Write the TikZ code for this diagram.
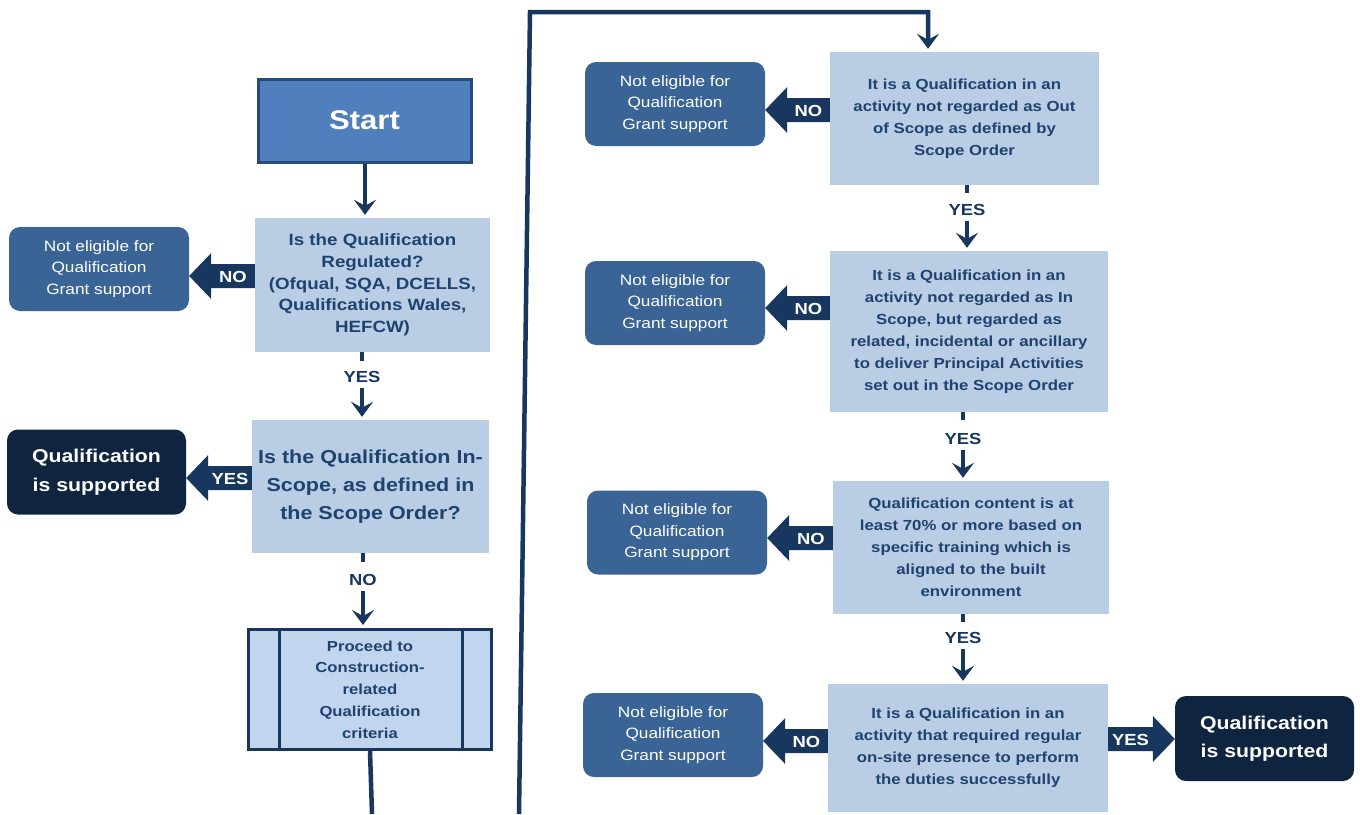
\documentclass[tikz,border=0pt]{standalone}
\usepackage{fontspec}
\setmainfont{Liberation Sans}[FakeStretch=1.15]
\usetikzlibrary{calc,arrows.meta}
\definecolor{navy}{HTML}{17375E}
\definecolor{txtb}{HTML}{1F426F}
\definecolor{lightb}{HTML}{B9CDE5}
\definecolor{procb}{HTML}{C2D5EE}
\definecolor{neb}{HTML}{3A6496}
\definecolor{qsb}{HTML}{0F243E}
\definecolor{startb}{HTML}{4F7FBC}
\definecolor{startd}{HTML}{274B78}
\newcommand\fs[2]{\fontsize{#1}{#2}\selectfont}
\tikzset{
  qbox/.style={fill=lightb, text=txtb, align=center, inner sep=0pt, font=\bfseries\fs{14.6}{22}},
  nebox/.style={fill=neb, text=white, rounded corners=11pt, align=center, inner sep=0pt,
    minimum width=180pt, minimum height=84pt, font=\fs{15}{21.5}},
  qsbox/.style={fill=qsb, text=white, rounded corners=11pt, align=center, inner sep=0pt,
    minimum width=179pt, minimum height=85pt, font=\bfseries\fs{18.5}{28.5}},
  lbl/.style={text=navy, font=\bfseries\fs{16}{18}, inner sep=0pt},
  wlbl/.style={text=white, font=\bfseries\fs{16}{18}, inner sep=0pt},
  conn/.style={draw=navy, line width=4.5pt},
  arr/.style={conn, -{Stealth[length=15pt,width=22pt,inset=6pt]}, shorten >=3pt},
}
% block arrow: #1 name, #2 tail point, #3 tip point (same y), #4 label, #5 direction (+1 tip left, -1 tip right)
\newcommand\blkarrow[5]{%
  \fill[navy] ($(#2)+(0,-12)$) -- ($(#3)+(#5*22,-12)$) -- ($(#3)+(#5*22,-23)$) -- (#3)
    -- ($(#3)+(#5*22,23)$) -- ($(#3)+(#5*22,12)$) -- ($(#2)+(0,12)$) -- cycle;
  \node[wlbl] (#1) at ($(#3)!0.5!(#2)+(#5*11,1)$) {#4};
}
\begin{document}
\begin{tikzpicture}[x=1pt,y=-1pt]
\useasboundingbox[fill=white] (0,0) rectangle (1360,814);

% ---------- left column ----------
\node[fill=startb, draw=startd, line width=3pt, text=white, minimum width=213pt, minimum height=83pt,
  inner sep=0pt, font=\bfseries\fs{27}{30}] (start) at (364.5,120.5) {Start};

\node[qbox, minimum width=235pt, minimum height=134pt, font=\bfseries\fs{16.3}{21.7}] (q1) at (372.5,285)
  {Is the Qualification\\Regulated?\\(Ofqual, SQA, DCELLS,\\Qualifications Wales,\\HEFCW)};
\node[nebox] (ne1) at (99,269) {Not eligible for\\Qualification\\Grant support};

\node[qbox, minimum width=237pt, minimum height=133pt, font=\bfseries\fs{18.7}{28}] (q2) at (370.5,486.5)
  {Is the Qualification In-\\Scope, as defined in\\the Scope Order?};
\node[qsbox] (qs1) at (96.5,472) {Qualification\\is supported};

\node[fill=procb, draw=navy, line width=3pt, text=txtb, minimum width=243pt, minimum height=120pt,
  inner sep=0pt, align=center, font=\bfseries\fs{14.5}{21.7}] (pr) at (370,689.5)
  {Proceed to\\Construction-\\related\\Qualification\\criteria};
\draw[navy, line width=3pt] (279,0 |- pr.north) -- (279,0 |- pr.south);
\draw[navy, line width=3pt] (462,0 |- pr.north) -- (462,0 |- pr.south);

% connectors left
\draw[arr] (365,0 |- start.south) -- (365,0 |- q1.north);
\node[lbl] (y1) at (362,377) {YES};
\draw[conn] (q1.south -| y1) -- ++(0,9);
\draw[arr, shorten <=5pt] (y1.south) -- (y1 |- q2.north);
\node[lbl] (n1) at (363,580) {NO};
\draw[conn] (q2.south -| n1) -- ++(0,9);
\draw[arr, shorten <=5pt] (n1.south) -- (n1 |- pr.north);

\blkarrow{a1}{q1.west |- 0,276}{ne1.east |- 0,276}{NO}{1}
\blkarrow{a2}{q2.west |- 0,478}{qs1.east |- 0,478}{YES}{1}

% ---------- right column ----------
\node[qbox, minimum width=269pt, minimum height=133pt] (r1) at (964.5,118.5)
  {It is a Qualification in an\\activity not regarded as Out\\of Scope as defined by\\Scope Order};
\node[nebox] (ne2) at (675,104) {Not eligible for\\Qualification\\Grant support};

\node[qbox, minimum width=278pt, minimum height=161pt] (r2) at (969,331.5)
  {It is a Qualification in an\\activity not regarded as In\\Scope, but regarded as\\related, incidental or ancillary\\to deliver Principal Activities\\set out in the Scope Order};
\node[nebox] (ne3) at (675,303) {Not eligible for\\Qualification\\Grant support};

\node[qbox, minimum width=276pt, minimum height=133pt] (r3) at (971,547.5)
  {Qualification content is at\\least 70\% or more based on\\specific training which is\\aligned to the built\\environment};
\node[nebox] (ne4) at (677,532.5) {Not eligible for\\Qualification\\Grant support};

\node[qbox, minimum width=280pt, minimum height=128pt] (r4) at (968,748)
  {It is a Qualification in an\\activity that required regular\\on-site presence to perform\\the duties successfully};
\node[nebox] (ne5) at (673,735) {Not eligible for\\Qualification\\Grant support};
\node[qsbox] (qs2) at (1264.5,738.5) {Qualification\\is supported};

% page-break connector
\coordinate (cA) at (372,814);
\coordinate (cB) at (519,814);
\coordinate (cC) at (530,12);
\coordinate (cD) at (928,12);
\draw[conn] (pr.south) -- (cA);
\draw[arr] (cB) -- (cC) -- (cD) -- (cD |- r1.north);

% connectors right
\node[lbl] (y2) at (967,210) {YES};
\draw[conn] (r1.south -| y2) -- ++(0,8);
\draw[arr, shorten <=5pt] (y2.south) -- (y2 |- r2.north);
\node[lbl] (y3) at (963,439) {YES};
\draw[conn] (r2.south -| y3) -- ++(0,8);
\draw[arr, shorten <=5pt] (y3.south) -- (y3 |- r3.north);
\node[lbl] (y4) at (963,638) {YES};
\draw[conn] (r3.south -| y4) -- ++(0,8);
\draw[arr, shorten <=5pt] (y4.south) -- (y4 |- r4.north);

\blkarrow{a3}{r1.west |- 0,110}{ne2.east |- 0,110}{NO}{1}
\blkarrow{a4}{r2.west |- 0,308}{ne3.east |- 0,308}{NO}{1}
\blkarrow{a5}{r3.west |- 0,538}{ne4.east |- 0,538}{NO}{1}
\blkarrow{a6}{r4.west |- 0,741}{ne5.east |- 0,741}{NO}{1}
\blkarrow{a7}{r4.east |- 0,739}{qs2.west |- 0,739}{YES}{-1}
\end{tikzpicture}
\end{document}
